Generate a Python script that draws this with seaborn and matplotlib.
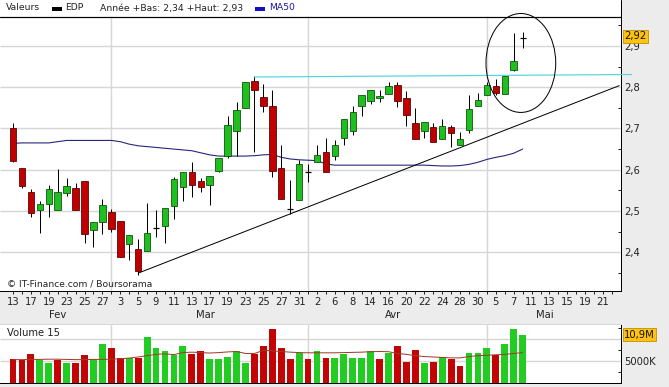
import numpy as np
import pandas as pd
import matplotlib
matplotlib.use("Agg")
import matplotlib.pyplot as plt
from matplotlib.patches import Ellipse, Rectangle
from matplotlib.lines import Line2D
import matplotlib.transforms as mtrans
import seaborn as sns

# ---------------- data ----------------
opens = [2.700, 2.603, 2.547, 2.503, 2.516, 2.503, 2.543, 2.555, 2.572, 2.453,
         2.472, 2.497, 2.475, 2.420, 2.407, 2.402, 2.458, 2.463, 2.511, 2.557,
         2.594, 2.572, 2.562, 2.596, 2.633, 2.693, 2.749, 2.815, 2.776, 2.754,
         2.603, 2.504, 2.526, 2.595, 2.618, 2.642, 2.633, 2.676, 2.693, 2.754,
         2.766, 2.773, 2.783, 2.805, 2.773, 2.713, 2.693, 2.703, 2.674, 2.703,
         2.659, 2.696, 2.754, 2.781, 2.803, 2.783, 2.843, 2.920]
highs = [2.714, 2.603, 2.552, 2.524, 2.564, 2.602, 2.581, 2.567, 2.572, 2.474,
         2.528, 2.504, 2.475, 2.441, 2.433, 2.518, 2.501, 2.508, 2.583, 2.594,
         2.619, 2.579, 2.584, 2.628, 2.730, 2.764, 2.812, 2.827, 2.807, 2.793,
         2.659, 2.574, 2.623, 2.613, 2.661, 2.676, 2.671, 2.722, 2.754, 2.781,
         2.793, 2.793, 2.812, 2.812, 2.790, 2.749, 2.715, 2.713, 2.722, 2.708,
         2.691, 2.781, 2.785, 2.812, 2.819, 2.827, 2.931, 2.935]
lows = [2.619, 2.555, 2.486, 2.447, 2.484, 2.503, 2.535, 2.503, 2.423, 2.413,
        2.443, 2.450, 2.387, 2.382, 2.345, 2.402, 2.436, 2.423, 2.480, 2.525,
        2.533, 2.545, 2.514, 2.594, 2.628, 2.633, 2.749, 2.642, 2.739, 2.583,
        2.528, 2.492, 2.526, 2.569, 2.618, 2.594, 2.623, 2.659, 2.683, 2.730,
        2.759, 2.764, 2.783, 2.751, 2.705, 2.674, 2.676, 2.666, 2.674, 2.654,
        2.659, 2.688, 2.754, 2.781, 2.781, 2.783, 2.839, 2.895]
closes = [2.621, 2.561, 2.494, 2.516, 2.552, 2.545, 2.560, 2.503, 2.443, 2.474,
          2.514, 2.455, 2.387, 2.441, 2.353, 2.446, 2.458, 2.508, 2.577, 2.594,
          2.562, 2.557, 2.584, 2.628, 2.708, 2.744, 2.812, 2.793, 2.754, 2.598,
          2.528, 2.504, 2.615, 2.595, 2.635, 2.594, 2.659, 2.722, 2.739, 2.781,
          2.793, 2.778, 2.802, 2.766, 2.732, 2.674, 2.715, 2.666, 2.705, 2.688,
          2.674, 2.747, 2.768, 2.805, 2.785, 2.827, 2.863, 2.920]
ma50 = [2.664, 2.665, 2.665, 2.665, 2.665, 2.668, 2.671, 2.671, 2.671, 2.671,
        2.671, 2.671, 2.668, 2.662, 2.658, 2.656, 2.654, 2.652, 2.650, 2.648,
        2.646, 2.641, 2.636, 2.633, 2.633, 2.633, 2.633, 2.634, 2.636, 2.637,
        2.630, 2.626, 2.624, 2.623, 2.622, 2.614, 2.611, 2.611, 2.611, 2.611,
        2.611, 2.611, 2.611, 2.611, 2.611, 2.611, 2.611, 2.610, 2.609, 2.609,
        2.610, 2.613, 2.618, 2.625, 2.630, 2.634, 2.640, 2.650]
volumes = [5.30, 5.07, 6.59, 5.07, 4.32, 5.07, 4.32, 4.32, 6.14, 5.39,
           8.86, 7.73, 5.61, 5.61, 5.61, 10.39, 7.95, 7.27, 6.30, 8.41,
           6.52, 7.05, 5.23, 5.45, 5.91, 7.05, 4.32, 6.52, 8.41, 12.27,
           7.95, 5.45, 6.75, 5.45, 7.05, 5.68, 5.68, 6.43, 5.68, 5.68,
           7.27, 5.23, 6.75, 8.41, 4.55, 7.50, 4.32, 4.55, 5.91, 5.23,
           3.64, 6.82, 6.82, 7.95, 6.30, 8.64, 12.27, 10.90]
vol_ma = [5.20, 5.20, 5.25, 5.25, 5.30, 5.30, 5.25, 5.20, 5.20, 5.25,
          5.25, 5.30, 5.40, 5.55, 5.80, 6.10, 6.40, 6.50, 6.35, 6.80,
          6.90, 6.80, 6.70, 6.80, 6.95, 7.05, 6.60, 6.60, 7.30, 7.20,
          7.05, 6.90, 6.80, 6.75, 6.75, 6.75, 6.75, 6.80, 6.85, 6.90,
          7.00, 7.05, 7.00, 6.60, 6.40, 6.10, 5.90, 5.80, 5.70, 5.60,
          5.60, 5.90, 6.10, 6.20, 6.30, 6.40, 6.60, 6.80]
day_labels = ["13", "17", "19", "23", "25", "27", "3", "5", "9", "11", "13", "17",
              "19", "23", "25", "27", "31", "2", "6", "8", "14", "16", "20", "22",
              "24", "28", "30", "5", "7", "11", "13", "15", "19", "21"]
months = ["Fev", "Mar", "Avr", "Mai"]
month_start = [0, 11, 33, 53]      # first trading-day index of each month
month_end = [10, 32, 52, 66]       # last trading-day index of each month shown
trend_x, trend_y = [14, 67.8], [2.349, 2.804]
resist_x, resist_y = [27, 69.2], [2.825, 2.831]
circle_center, circle_w, circle_h = (56.8, 2.859), 7.8, 0.240
last_price, last_volume = 2.92, 10.9

df = pd.DataFrame({"i": np.arange(len(closes)), "open": opens, "high": highs,
                   "low": lows, "close": closes, "ma50": ma50,
                   "volume": volumes, "vol_ma": vol_ma})

# ---------------- style ----------------
sns.set_theme(style="white")
plt.rcParams["font.family"] = ["DejaVu Sans"]

W, H = 669, 387
fig = plt.figure(figsize=(W / 100, H / 100), dpi=100, facecolor="#ececec")
px = 0.72  # points per pixel


def fx(p):
    return p / W


def fy(p):
    return 1 - p / H


# white areas (behind the axes)
fig.patches.append(Rectangle((0, fy(291)), fx(621), 291 / H, transform=fig.transFigure,
                             facecolor="white", edgecolor="none", zorder=-5))
fig.patches.append(Rectangle((0, fy(383)), fx(621), 59 / H, transform=fig.transFigure,
                             facecolor="white", edgecolor="none", zorder=-5))

GREEN, GREEN_E = "#1fbf1f", "#0b4d0b"
RED, RED_E = "#c00000", "#5a0000"
VGREEN, VRED = "#22cc22", "#c20404"
GRID = "#d6d6d6"
TXT = "#222222"
FS = 7.2

XMIN, XMAX = -13 / 8.94, 68.0

# ---------------- main price axes ----------------
ax = fig.add_axes([0, fy(291), fx(621), (291 - 16) / H])
ax.set_facecolor("white")
ax.set_xlim(XMIN, XMAX)
ax.set_ylim(2.3056, 2.973)

ax.hlines([2.4, 2.5, 2.6, 2.7, 2.8, 2.9], XMIN, XMAX, color=GRID, lw=1.0, zorder=0.6)
ax.vlines(month_start[1:], 2.3056, 2.973, color=GRID, lw=1.0, zorder=0.6)

sns.lineplot(data=df, x="i", y="ma50", ax=ax, color="#24247a", lw=1.1 * px, zorder=1)

# candles
up = df["close"] > df["open"]
down = df["close"] < df["open"]
doji = df["close"] == df["open"]
ax.vlines(df["i"], df["low"], df["high"], color="black", lw=1 * px, zorder=2)
ax.bar(df["i"][up], (df["close"] - df["open"])[up], bottom=df["open"][up], width=0.72,
       color=GREEN, edgecolor=GREEN_E, linewidth=0.8 * px, zorder=3)
ax.bar(df["i"][down], (df["open"] - df["close"])[down], bottom=df["close"][down], width=0.72,
       color=RED, edgecolor=RED_E, linewidth=0.8 * px, zorder=3)
ax.hlines(df["close"][doji], df["i"][doji] - 0.32, df["i"][doji] + 0.32, color="black",
          lw=1.2 * px, zorder=3)

ax.plot(trend_x, trend_y, color="black", lw=1 * px, zorder=4)
ax.plot(resist_x, resist_y, color="#55d6dc", lw=1.2 * px, zorder=4, clip_on=False)
ax.add_patch(Ellipse(circle_center, circle_w, circle_h, fill=False, edgecolor="black",
                     lw=1 * px, zorder=4, clip_on=False))

# spines
for s in ["left", "top"]:
    ax.spines[s].set_visible(False)
for s in ["right", "bottom"]:
    ax.spines[s].set_color("black")
    ax.spines[s].set_linewidth(1 * px)
fig.add_artist(Line2D([0, fx(621)], [fy(16.5), fy(16.5)], color="black", lw=1.2 * px))
fig.add_artist(Line2D([fx(621), fx(621)], [fy(0), fy(16.5)], color="black", lw=1 * px))

# y axis (right)
ax.yaxis.tick_right()
ax.set_yticks([2.4, 2.5, 2.6, 2.7, 2.8, 2.9])
ax.set_yticklabels([f"{v:.1f}".replace(".", ",") for v in [2.4, 2.5, 2.6, 2.7, 2.8, 2.9]])
ax.set_yticks([2.35, 2.45, 2.55, 2.65, 2.75, 2.85, 2.95], minor=True)
ax.tick_params(axis="y", which="both", direction="in", length=3 * px, width=1 * px,
               pad=2, labelsize=FS, colors=TXT, right=True, left=False)
ax.set_ylabel("")

# x axis
ax.set_xticks(np.arange(0, 68, 2))
ax.set_xticklabels(day_labels)
ax.set_xticks(np.arange(1, 68, 2), minor=True)
ax.tick_params(axis="x", which="both", direction="out", length=3 * px, width=1 * px,
               pad=2.5, labelsize=FS, colors=TXT, bottom=True)
ax.set_xlabel("")
blend = mtrans.blended_transform_factory(ax.transData, ax.transAxes)
for name, a, b in zip(months, month_start, month_end):
    ax.text((a + b) / 2, -0.087, name, transform=blend, ha="center", va="center",
            fontsize=FS, color=TXT)

ax.annotate(f"{last_price:.2f}".replace(".", ","), xy=(1.0, last_price),
            xycoords=("axes fraction", "data"), xytext=(3 * px, 1), textcoords="offset points",
            ha="left", va="center", fontsize=FS, color="#111111",
            bbox=dict(boxstyle="square,pad=0.15", fc="#ffc30f", ec="#c08a00", lw=0.8 * px))

ax.text(7 / 621, (291 - 284) / 275, "\u00a9 IT-Finance.com / Boursorama",
        transform=ax.transAxes, fontsize=6.6, color=TXT, ha="left", va="center")

# header
HFS = 6.7
fig.text(fx(6), fy(8), "Valeurs", fontsize=HFS, color=TXT, va="center")
fig.patches.append(Rectangle((fx(52), fy(10.5)), fx(10), 3.5 / H, transform=fig.transFigure,
                             facecolor="black", edgecolor="none"))
fig.text(fx(65), fy(8), "EDP", fontsize=HFS, color=TXT, va="center")
fig.text(fx(100), fy(8), "Année +Bas: 2,34 +Haut: 2,93", fontsize=HFS, color=TXT,
         va="center")
fig.patches.append(Rectangle((fx(255), fy(10.5)), fx(10), 3.5 / H, transform=fig.transFigure,
                             facecolor="#1010c8", edgecolor="none"))
fig.text(fx(269), fy(8), "MA50", fontsize=HFS, color="#1a1a9a", va="center")

# ---------------- volume axes ----------------
axv = fig.add_axes([0, fy(382.5), fx(621), (382.5 - 324) / H])
axv.set_facecolor("white")
axv.set_xlim(XMIN, XMAX)
axv.set_ylim(0, 13.3)
axv.hlines([5, 10], XMIN, XMAX, color=GRID, lw=1.0, zorder=0.6)
axv.vlines(month_start[1:], 0, 13.3, color=GRID, lw=1.0, zorder=0.6)

prev = df["close"].shift(1)
rising = (df["close"] > prev) | (prev.isna() & up)
vcolors = [VGREEN if r else VRED for r in rising]
axv.bar(df["i"], df["volume"], width=0.76, color=vcolors, edgecolor="none", zorder=2)
sns.lineplot(data=df, x="i", y="vol_ma", ax=axv, color="#a03a2a", lw=1 * px, zorder=3)

for s in ["left"]:
    axv.spines[s].set_visible(False)
axv.spines["top"].set_color("#d8d8d8")
axv.spines["top"].set_linewidth(1 * px)
for s in ["right", "bottom"]:
    axv.spines[s].set_color("black")
    axv.spines[s].set_linewidth(1 * px)
axv.yaxis.tick_right()
axv.set_yticks([2.5, 5, 7.5, 10, 12.5])
axv.set_yticklabels(["", "5000K", "", "", ""])
axv.tick_params(axis="y", direction="in", length=3 * px, width=1 * px, pad=2,
                labelsize=FS, colors=TXT, right=True, left=False)
axv.set_xticks([])
axv.set_xlabel("")
axv.set_ylabel("")
axv.annotate(f"{last_volume:.1f}M".replace(".", ","), xy=(1.0, last_volume),
             xycoords=("axes fraction", "data"), xytext=(3 * px, 0), textcoords="offset points",
             ha="left", va="center", fontsize=FS, color="#111111",
             bbox=dict(boxstyle="square,pad=0.15", fc="#ffc30f", ec="#c08a00", lw=0.8 * px))
axv.text(7 / 621, (382.5 - 333) / 58.5, "Volume 15", transform=axv.transAxes,
         fontsize=FS, color=TXT, ha="left", va="center")

fig.savefig("out.png", dpi=100, facecolor=fig.get_facecolor())
